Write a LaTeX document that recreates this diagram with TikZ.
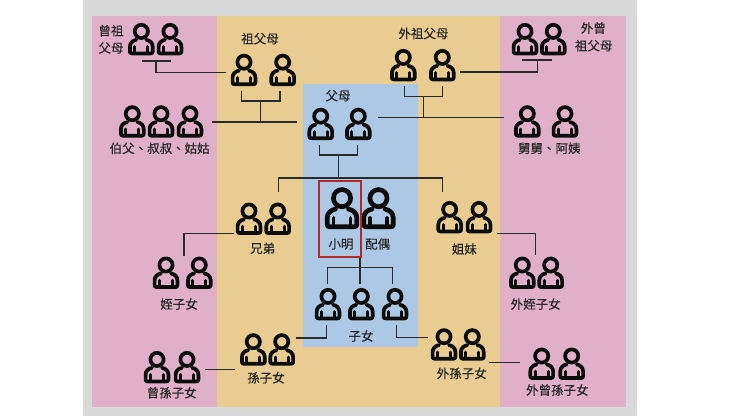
\documentclass[tikz,border=0pt]{standalone}
\usepackage{fontspec}
\setmainfont[FakeBold=0.25]{Noto Sans CJK TC}
\definecolor{bggray}{HTML}{D9D9D9}
\definecolor{bandpink}{HTML}{E0B0C9}
\definecolor{bandtan}{HTML}{E8CC91}
\definecolor{bandblue}{HTML}{ADC8E4}
\definecolor{inkdark}{HTML}{0C0C0C}
\definecolor{linkdark}{HTML}{2A2A2A}
\definecolor{selfred}{HTML}{B02A2A}
\def\plw{3.7pt}
\tikzset{
  pics/person/.style={code={
    \draw[inkdark,line width=\plw] (0,-7.8) circle (6.6);
    \draw[inkdark,line width=\plw,line join=round,line cap=round]
      (-5.0,0.6) .. controls (-8.8,1.4) and (-11.4,3.8) .. (-11.4,7.5) -- (-11.4,12.2)
      .. controls (-11.4,13.6) and (-10.9,14.2) .. (-9.6,14.2) -- (9.6,14.2)
      .. controls (10.9,14.2) and (11.4,13.6) .. (11.4,12.2) -- (11.4,7.5)
      .. controls (11.4,3.8) and (8.8,1.4) .. (5.0,0.6);
    \draw[inkdark,line width=0.8*\plw,line cap=round] (-6.5,7.5) -- (-6.5,14.2) (6.5,7.5) -- (6.5,14.2);
  }},
  lab/.style={font=\fontsize{12.5}{14}\selectfont,text=black!85,inner sep=0pt,anchor=center},
  conn/.style={draw=linkdark,line width=1.1pt,line join=miter},
}
\begin{document}
\begin{tikzpicture}[x=1pt,y=-1pt]
\useasboundingbox (0,0) rectangle (740,416);
% bands
\fill[white] (0,0) rectangle (740,416);
\fill[bggray] (83.3,0) rectangle (637.3,416);
\fill[bandpink] (92,16) rectangle (217.3,406.7);
\fill[bandpink] (500,16) rectangle (626,406.7);
\fill[bandtan] (217.3,16) rectangle (500,406.7);
\fill[bandblue] (303.3,84) rectangle (417.7,346.7);
% people
\pic at (141.3,39.2) {person}; \pic at (170,39.2) {person};
\pic at (244,70) {person}; \pic at (282.7,70) {person};
\pic at (132.3,121.5) {person}; \pic at (161,121.5) {person}; \pic at (190,121.5) {person};
\pic at (320.7,124) {person}; \pic at (358.3,124) {person};
\pic at (403.3,65.2) {person}; \pic at (442.3,65.2) {person};
\pic at (525,39.2) {person}; \pic at (553.3,39.2) {person};
\pic at (527.3,121.5) {person}; \pic at (565,121.5) {person};
\begin{scope}
\def\plw{4.7pt}
\pic[scale=1.3] at (342,208.3) {person};
\pic[scale=1.3] at (378.5,208.3) {person};
\end{scope}
\pic at (249,218.8) {person}; \pic at (277.7,218.8) {person};
\pic at (449.7,217.2) {person}; \pic at (479,217.2) {person};
\pic at (166,272.8) {person}; \pic at (199.3,272.8) {person};
\pic at (522.3,272.8) {person}; \pic at (550.7,272.8) {person};
\pic at (328,304.2) {person}; \pic at (361.3,304.2) {person}; \pic at (395,304.2) {person};
\pic at (253.3,349.5) {person}; \pic at (281.7,349.5) {person};
\pic at (444,344.5) {person}; \pic at (472.3,344.5) {person};
\pic at (157,367.2) {person}; \pic at (187,367.2) {person};
\pic at (541.7,363.8) {person}; \pic at (571.7,363.8) {person};
% labels
\node[lab] (lzz1) at (111,30.7) {曾祖};
\node[lab] (lzz2) at (111,48) {父母};
\node[lab] (lz) at (260,38.7) {祖父母};
\node[lab] (lwz) at (423.5,33.5) {外祖父母};
\node[lab] (lwc1) at (593.3,28) {外曾};
\node[lab] (lwc2) at (593.7,45.7) {祖父母};
\node[lab] (lbs) at (159.7,148.3) {伯父、叔叔、姑姑};
\node[lab] (lfm) at (338,95.7) {父母};
\node[lab] (ljj) at (549.3,148.3) {舅舅、阿姨};
\node[lab] (lme) at (341,244) {小明};
\node[lab] (lsp) at (377.7,244) {配偶};
\node[lab] (lxd) at (262.7,248.3) {兄弟};
\node[lab] (lsm) at (464.3,249) {姐妹};
\node[lab] (lzn) at (179,304) {姪子女};
\node[lab] (lwzn) at (535.7,304) {外姪子女};
\node[lab] (lzv) at (361,336) {子女};
\node[lab] (lsn) at (266,377.7) {孫子女};
\node[lab] (lwsn) at (461.7,373.3) {外孫子女};
\node[lab] (lcs) at (171.7,392.7) {曾孫子女};
\node[lab] (lwcs) at (557.3,390) {外曾孫子女};
% self box
\node[draw=selfred,line width=1.8pt,minimum width=42pt,minimum height=76.6pt,inner sep=0pt] (self) at (340.3,219) {};
% connector points
\coordinate (a1) at (141.7,61); \coordinate (a2) at (171,61);
\coordinate (a3) at (156,61); \coordinate (a4) at (226,72.7);
\coordinate (b1) at (241.7,90.7); \coordinate (b2) at (280,90.7);
\coordinate (b3) at (260.7,101); \coordinate (b4) at (260.7,122);
\coordinate (b5) at (211.7,122); \coordinate (b6) at (296.7,122);
\coordinate (c1) at (319.3,145); \coordinate (c2) at (357.3,145);
\coordinate (c3) at (338.7,155); \coordinate (c4) at (338.7,178);
\coordinate (c5) at (278.3,192); \coordinate (c6) at (442.3,192);
\coordinate (d1) at (404.7,86); \coordinate (d2) at (442.7,86);
\coordinate (d3) at (423.3,96.7); \coordinate (d4) at (423.3,117.7);
\coordinate (d5) at (378.3,117.7); \coordinate (d6) at (504,117.7);
\coordinate (e1) at (522.3,60); \coordinate (e2) at (552.3,60);
\coordinate (e3) at (537.3,60); \coordinate (e4) at (460,72);
\coordinate (f1) at (234.3,233.3); \coordinate (f2) at (184,255.7);
\coordinate (g1) at (497.3,233.3); \coordinate (g2) at (535.7,255);
\coordinate (h1) at (327.7,284.3); \coordinate (h2) at (392.7,284.3);
\coordinate (h3) at (360,257.7); \coordinate (h4) at (360,283.5); \coordinate (h5) at (360,267.7);
\coordinate (i1) at (326.7,325); \coordinate (i2) at (296,338);
\coordinate (j1) at (396.7,325); \coordinate (j2) at (427.7,337.7);
\coordinate (k1) at (235.3,369.3); \coordinate (k2) at (205,369.3);
\coordinate (m1) at (489.3,362.7); \coordinate (m2) at (520,362.7);
% connectors
\draw[conn] (a1) -- (a2);
\draw[conn] (a3) |- (a4);
\draw[conn] (b1) |- (b3) -| (b2);
\draw[conn] (b3) -- (b4);
\draw[conn] (b5) -- (b6);
\draw[conn] (c1) |- (c3) -| (c2);
\draw[conn] (c3) -- (c4);
\draw[conn] (c5) |- (c4) -| (c6);
\draw[conn] (d1) |- (d3) -| (d2);
\draw[conn] (d3) -- (d4);
\draw[conn] (d5) -- (d6);
\draw[conn] (e1) -- (e2);
\draw[conn] (e3) |- (e4);
\draw[conn] (f1) -| (f2);
\draw[conn] (g1) -| (g2);
\draw[conn] (h1) |- (h5) -| (h2);
\draw[conn] (h3) -- (h4);
\draw[conn] (i1) |- (i2);
\draw[conn] (j1) |- (j2);
\draw[conn] (k1) -- (k2);
\draw[conn] (m1) -- (m2);
\end{tikzpicture}
\end{document}
